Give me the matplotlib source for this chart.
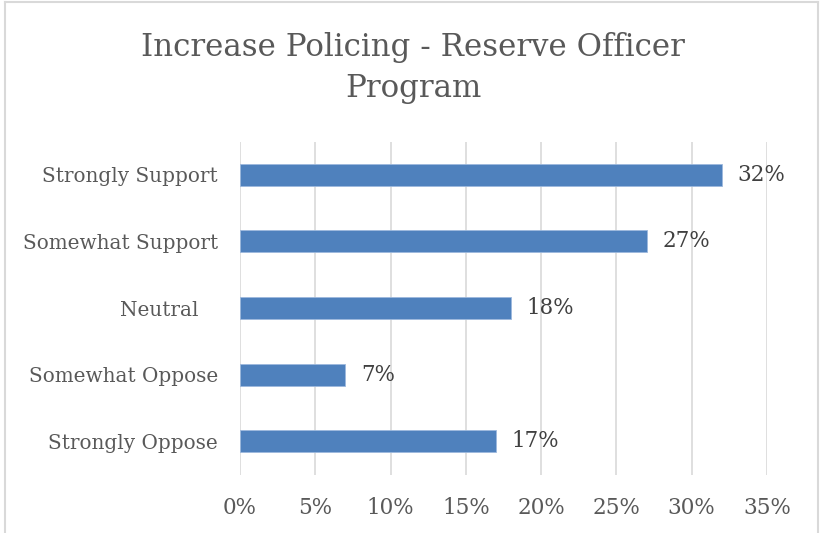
import matplotlib.pyplot as plt
from matplotlib.lines import Line2D
from matplotlib.ticker import PercentFormatter

categories = ['Strongly Support', 'Somewhat Support', 'Neutral   ', 'Somewhat Oppose', 'Strongly Oppose']
values = [32, 27, 18, 7, 17]
ticks = [0, 5, 10, 15, 20, 25, 30, 35]

plt.rcParams['font.family'] = ['DejaVu Serif']

W, H = 822, 533
fig = plt.figure(figsize=(W / 100, H / 100), dpi=100)
ax = fig.add_axes([240 / W, 1 - 474.5 / H, (767 - 240) / W, (474.5 - 141.5) / H])

y = list(range(len(categories)))
bars = ax.barh(y, values, height=0.33, color='#4F81BD', edgecolor='#9DB9DD', linewidth=0.6, zorder=3)
ax.set_ylim(len(categories) - 0.5, -0.5)
ax.set_xlim(0, 35)
ax.set_yticks(y)
ax.set_yticklabels(categories, fontsize=14.4, color='#595959')
ax.set_xticks(ticks)
ax.xaxis.set_major_formatter(PercentFormatter(decimals=0))
ax.tick_params(axis='x', labelsize=15.5, labelcolor='#595959', length=0, pad=16)
ax.tick_params(axis='y', length=0, pad=16)
ax.grid(axis='x', color='#D9D9D9', linewidth=1.2, zorder=0)
for s in ax.spines.values():
    s.set_visible(False)

for b, v in zip(bars, values):
    ax.text(v + 1.05, b.get_y() + b.get_height() / 2, f'{v}%', va='center', ha='left',
            fontsize=15.5, color='#404040')

fig.text(413 / W, 1 - 68 / H, 'Increase Policing - Reserve Officer\nProgram', ha='center', va='center',
         fontsize=22.2, color='#595959', linespacing=1.38)

# chart frame
fig.add_artist(Line2D([4.5 / W, 4.5 / W], [0, 1 - 1.5 / H], color='#D9D9D9', linewidth=1.5, transform=fig.transFigure))
fig.add_artist(Line2D([4.5 / W, 818 / W], [1 - 1.5 / H, 1 - 1.5 / H], color='#D9D9D9', linewidth=1.5, transform=fig.transFigure))
fig.add_artist(Line2D([818 / W, 818 / W], [0, 1 - 1.5 / H], color='#D9D9D9', linewidth=1.5, transform=fig.transFigure))

fig.savefig('out.png', dpi=100)
